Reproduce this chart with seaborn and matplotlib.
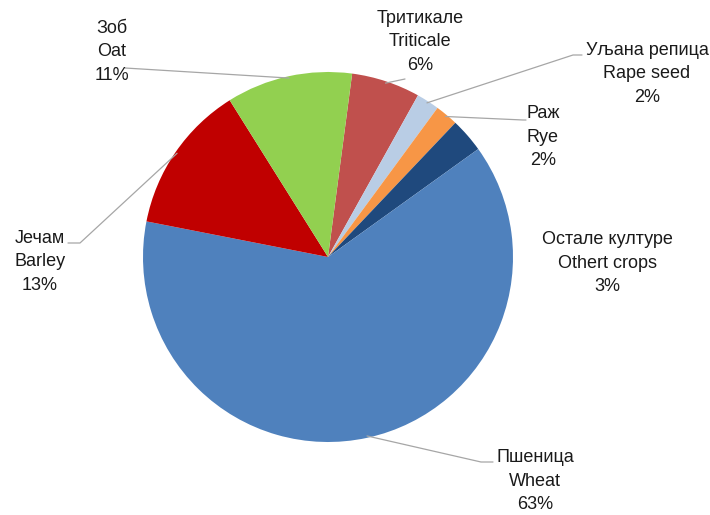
import numpy as np
import matplotlib
matplotlib.use("Agg")
import matplotlib.pyplot as plt
import seaborn as sns

# Data (clockwise order starting near the top)
labels_sr = ["Тритикале", "Уљана репица", "Раж", "Остале културе", "Пшеница", "Јечам", "Зоб"]
labels_en = ["Triticale", "Rape seed", "Rye", "Othert crops", "Wheat", "Barley", "Oat"]
shares = [6, 2, 2, 3, 63, 13, 11]
colors = ["#C0504D", "#B9CDE5", "#F79646", "#1F497D", "#4F81BD", "#C00000", "#92D050"]

# Layout (pixel coordinates, y measured from the top of the image)
W, H = 710, 515
CENTER = (328, 257)
RADIUS = 185
label_xy = [(420, 42), (647, 74), (543, 137), (607, 263), (535, 481), (40, 262), (112, 52)]
# leader line: elbow point, end point
leaders = [
    ((405, 79), (405, 79)),
    ((573, 55), (582, 55)),
    ((523, 120), (526, 120)),
    None,
    ((481, 462), (493, 462)),
    ((80, 243), (68, 243)),
    ((125, 68), (125, 68)),
]

sns.set_theme(style="white")
plt.rcParams["font.family"] = ["Liberation Sans", "DejaVu Sans"]

fig = plt.figure(figsize=(W / 100, H / 100), dpi=100)
ax = fig.add_axes([0, 0, 1, 1])

cx, cy = CENTER[0], H - CENTER[1]
wedges, _ = ax.pie(
    shares,
    colors=colors,
    startangle=82.5,
    counterclock=False,
    center=(cx, cy),
    radius=RADIUS,
    wedgeprops={"linewidth": 0},
    frame=True,
)
ax.set_xlim(0, W)
ax.set_ylim(0, H)
ax.set_aspect("equal")
ax.axis("off")

for wedge, sr, en, pct, (lx, ly), lead in zip(wedges, labels_sr, labels_en, shares, label_xy, leaders):
    ax.text(lx, H - ly, f"{sr}\n{en}\n{pct}%", ha="center", va="center",
            fontsize=13, color="#1a1a1a", linespacing=1.52)
    if lead is None:
        continue
    mid = np.deg2rad((wedge.theta1 + wedge.theta2) / 2)
    sx = cx + RADIUS * 0.99 * np.cos(mid)
    sy = cy + RADIUS * 0.99 * np.sin(mid)
    (ex, ey), (fx, fy) = lead
    ax.plot([sx, ex, fx], [sy, H - ey, H - fy], color="#A6A6A6", linewidth=0.9)

fig.savefig("out.png", dpi=100)
